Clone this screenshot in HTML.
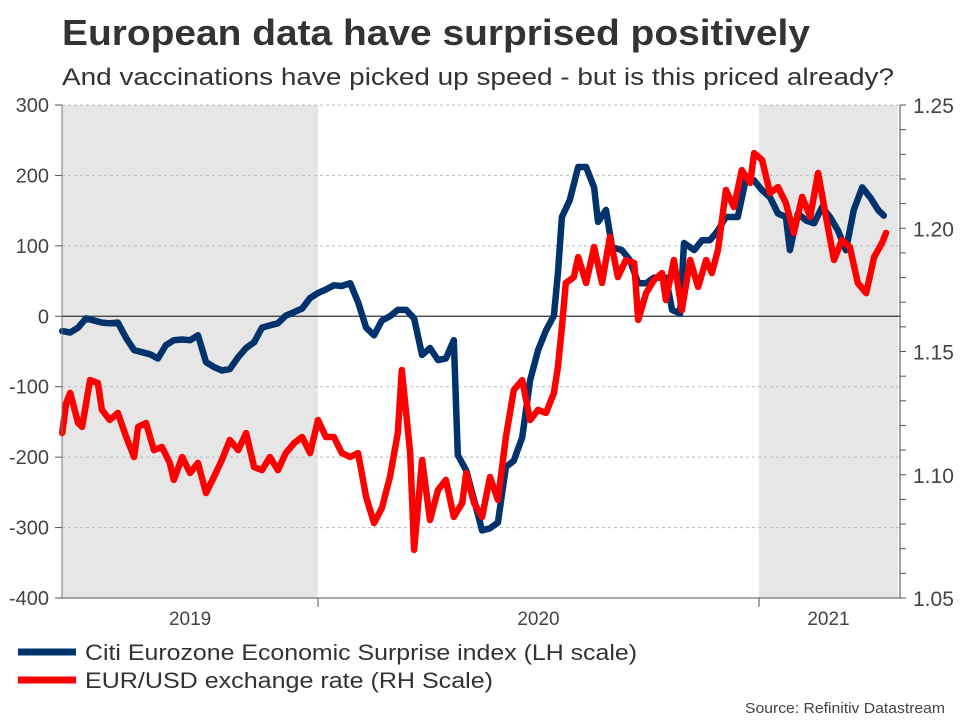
<!DOCTYPE html>
<html><head><meta charset="utf-8"><style>
html,body{margin:0;padding:0;background:#fff}
svg{display:block;font-family:"Liberation Sans Narrow","Liberation Sans",sans-serif}
</style></head><body>
<svg id="chart" width="960" height="720" viewBox="0 0 960 720">
<text x="62" y="45" font-size="36" font-weight="bold" fill="#333" textLength="748" lengthAdjust="spacingAndGlyphs" font-family="Liberation Sans, sans-serif">European data have surprised positively</text>
<text x="62" y="85" font-size="24" fill="#333" textLength="832" lengthAdjust="spacingAndGlyphs" font-family="Liberation Sans, sans-serif">And vaccinations have picked up speed - but is this priced already?</text>
<g id="bg"></g><g id="grid"></g><g id="series"></g><g id="axes"></g>
<line x1="18" y1="652" x2="76" y2="652" stroke="#00336b" stroke-width="7"/>
<text x="85" y="660" font-size="22" fill="#333" textLength="552" lengthAdjust="spacingAndGlyphs" font-family="Liberation Sans, sans-serif">Citi Eurozone Economic Surprise index (LH scale)</text>
<line x1="18" y1="680" x2="76" y2="680" stroke="#ff0000" stroke-width="7"/>
<text x="85" y="688" font-size="22" fill="#333" textLength="408" lengthAdjust="spacingAndGlyphs" font-family="Liberation Sans, sans-serif">EUR/USD exchange rate (RH Scale)</text>
<text x="945" y="713" font-size="15" fill="#444" text-anchor="end" textLength="200" lengthAdjust="spacingAndGlyphs" font-family="Liberation Sans, sans-serif">Source: Refinitiv Datastream</text>
</svg>
<script>
const leftTicks=[300,200,100,0,-100,-200,-300,-400];
const rightTicks=["1.25","1.20","1.15","1.10","1.05"];
const yearLabels=["2019","2020","2021"];
const yearStarts=[2019.42,2020,2021,2021.315];
const shadedYears=[[2019.42,2020],[2021,2021.315]];
const esiDates=[2019.420,2019.438,2019.456,2019.474,2019.492,2019.510,2019.528,2019.546,2019.565,2019.583,2019.601,2019.619,2019.637,2019.655,2019.673,2019.692,2019.710,2019.728,2019.746,2019.764,2019.782,2019.800,2019.819,2019.837,2019.855,2019.873,2019.891,2019.909,2019.927,2019.946,2019.964,2019.982,2020.000,2020.018,2020.036,2020.054,2020.073,2020.091,2020.109,2020.127,2020.145,2020.163,2020.181,2020.200,2020.218,2020.236,2020.254,2020.272,2020.290,2020.308,2020.317,2020.336,2020.354,2020.372,2020.390,2020.408,2020.426,2020.444,2020.463,2020.481,2020.499,2020.517,2020.535,2020.544,2020.553,2020.571,2020.590,2020.608,2020.626,2020.635,2020.653,2020.667,2020.689,2020.707,2020.726,2020.744,2020.762,2020.789,2020.803,2020.821,2020.830,2020.853,2020.871,2020.889,2020.907,2020.925,2020.952,2020.971,2020.989,2021.007,2021.025,2021.043,2021.061,2021.070,2021.088,2021.107,2021.125,2021.143,2021.161,2021.179,2021.197,2021.215,2021.234,2021.252,2021.270,2021.283];
const esiValues=[-21,-23,-16,-3,-6,-9,-10,-9,-31,-48,-51,-54,-60,-41,-34,-33,-34,-27,-65,-72,-77,-75,-58,-45,-37,-16,-13,-10,1,6,11,26,33,38,44,43,47,20,-16,-27,-6,0,9,9,-3,-55,-45,-62,-60,-34,-197,-219,-261,-304,-301,-293,-214,-205,-172,-91,-48,-20,1,61,141,165,212,212,183,134,151,98,94,80,47,47,55,55,9,4,104,94,108,108,122,141,141,197,193,179,169,146,141,94,146,136,132,155,141,122,94,151,183,169,151,143];
const fxDates=[2019.420,2019.429,2019.438,2019.456,2019.465,2019.483,2019.501,2019.510,2019.528,2019.546,2019.565,2019.583,2019.592,2019.610,2019.628,2019.646,2019.664,2019.673,2019.692,2019.710,2019.728,2019.746,2019.764,2019.782,2019.800,2019.819,2019.837,2019.855,2019.873,2019.891,2019.909,2019.927,2019.946,2019.964,2019.982,2020.000,2020.018,2020.036,2020.054,2020.073,2020.091,2020.109,2020.127,2020.145,2020.163,2020.181,2020.190,2020.209,2020.218,2020.236,2020.254,2020.272,2020.290,2020.308,2020.327,2020.336,2020.354,2020.372,2020.390,2020.408,2020.426,2020.444,2020.463,2020.481,2020.499,2020.517,2020.535,2020.544,2020.553,2020.562,2020.580,2020.590,2020.608,2020.626,2020.644,2020.662,2020.680,2020.698,2020.717,2020.726,2020.744,2020.762,2020.780,2020.789,2020.807,2020.825,2020.844,2020.862,2020.880,2020.893,2020.907,2020.925,2020.943,2020.961,2020.980,2020.989,2021.007,2021.025,2021.043,2021.061,2021.079,2021.098,2021.116,2021.134,2021.152,2021.170,2021.188,2021.206,2021.224,2021.243,2021.261,2021.279,2021.288];
const fxValues=[1.1169,1.1291,1.1332,1.1210,1.1194,1.1384,1.1372,1.1263,1.1222,1.1251,1.1153,1.1072,1.1194,1.1210,1.1100,1.1113,1.1048,1.0979,1.1072,1.1007,1.1048,1.0926,1.0991,1.1060,1.1141,1.1100,1.1169,1.1031,1.1019,1.1072,1.1019,1.1088,1.1129,1.1153,1.1088,1.1222,1.1153,1.1153,1.1088,1.1072,1.1088,1.0910,1.0804,1.0865,1.0991,1.1169,1.1425,1.1088,1.0695,1.1060,1.0816,1.0938,1.0979,1.0829,1.0885,1.1007,1.0885,1.0829,1.0991,1.0898,1.1153,1.1344,1.1384,1.1222,1.1263,1.1251,1.1332,1.1437,1.1599,1.1778,1.1802,1.1883,1.1778,1.1924,1.1778,1.1965,1.1802,1.1871,1.1859,1.1628,1.1737,1.1790,1.1818,1.1709,1.1871,1.1668,1.1871,1.1762,1.1871,1.1818,1.1912,1.2155,1.2086,1.2236,1.2184,1.2305,1.2277,1.2143,1.2167,1.2102,1.1981,1.2127,1.2046,1.2224,1.2046,1.1871,1.1952,1.1924,1.1778,1.1737,1.1883,1.1940,1.1981];

const PL=62,PR=900,PT=105,PB=598;
const xs=d=>318+(d-2020)*441;
const yl=v=>PT+(300-v)*(PB-PT)/700;
const yr=v=>PT+(1.25-v)*(PB-PT)/0.20;
const NS="http://www.w3.org/2000/svg";
function mk(tag,attrs,parent,txt){const e=document.createElementNS(NS,tag);for(const k in attrs)e.setAttribute(k,attrs[k]);if(txt!==undefined)e.textContent=txt;parent.appendChild(e);return e;}
const bg=document.getElementById('bg'),grid=document.getElementById('grid'),ser=document.getElementById('series'),ax=document.getElementById('axes');
shadedYears.forEach((s,i)=>{
  const r=mk('rect',{x:Math.max(PL,xs(s[0])),y:PT,width:Math.min(PR,xs(s[1]))-Math.max(PL,xs(s[0])),height:PB-PT,fill:'#e6e6e6'},bg);
  
  
});
leftTicks.forEach(v=>{
  const y=yl(v);
  if(v!==0&&v!==-400){const g=mk('line',{x1:PL,x2:PR,y1:y,y2:y,stroke:'#bbb','stroke-dasharray':'3,3','stroke-width':1},grid);
  
  }
  const t=mk('line',{x1:PL-7,x2:PL,y1:y,y2:y,stroke:'#555'},ax);
  
  
  const l=mk('text',{x:PL-13,y:y+7,'font-size':20,fill:'#444','text-anchor':'end'},ax,String(v));
  
  
});
const z=mk('line',{x1:PL,x2:PR,y1:yl(0),y2:yl(0),stroke:'#333','stroke-width':1.2},grid);


for(let k=0;k<=20;k++){
  const y=yr(1.05+k*0.01);
  const t=mk('line',{x1:PR,x2:PR+6,y1:y,y2:y,stroke:'#555'},ax);
  
  
}
rightTicks.forEach(s=>{
  const y=yr(parseFloat(s));
  const l=mk('text',{x:PR+13,y:y+8,'font-size':21,fill:'#444'},ax,s);
  
  
});
const la=mk('line',{x1:PL,x2:PL,y1:PT,y2:PB,stroke:'#777'},ax);


const ra=mk('line',{x1:PR,x2:PR,y1:PT,y2:PB,stroke:'#444'},ax);


const xa=mk('line',{x1:PL,x2:PR,y1:PB,y2:PB,stroke:'#555'},ax);


[2020,2021].forEach(d=>{const t=mk('line',{x1:xs(d),x2:xs(d),y1:PB,y2:PB+9,stroke:'#555'},ax);

});
yearLabels.forEach((s,i)=>{
  const cx=(Math.max(PL,xs(yearStarts[i]))+Math.min(PR,xs(yearStarts[i+1])))/2;
  const l=mk('text',{x:cx,y:625,'font-size':19,fill:'#444','text-anchor':'middle'},ax,s);
  
  
});
function path(ds,vs,yf){return ds.map((d,i)=>(i?'L':'M')+xs(d).toFixed(1)+','+yf(vs[i]).toFixed(1)).join('');}
const pb=mk('path',{d:path(esiDates,esiValues,yl),fill:'none',stroke:'#00336b','stroke-width':6.5,'stroke-linejoin':'round','stroke-linecap':'round'},ser);


const pr=mk('path',{d:path(fxDates,fxValues,yr),fill:'none',stroke:'#ff0000','stroke-width':6.5,'stroke-linejoin':'round','stroke-linecap':'round'},ser);


</script>
</body></html>
